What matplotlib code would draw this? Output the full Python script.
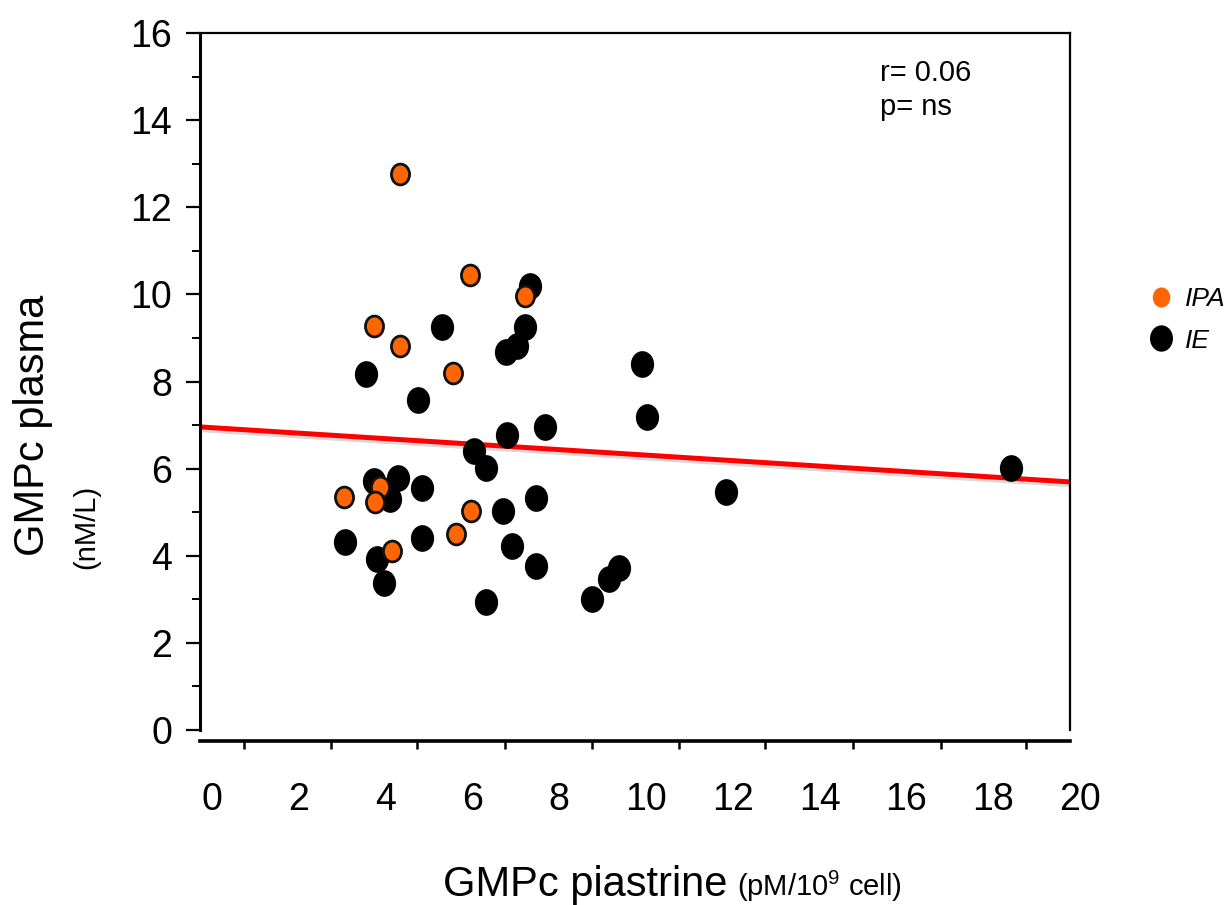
import numpy as np
import matplotlib.pyplot as plt
from matplotlib.path import Path
from matplotlib.lines import Line2D
import matplotlib.transforms as mtransforms
import matplotlib.patheffects as pe

plt.rcParams['font.family'] = ['Liberation Sans', 'DejaVu Sans']
plt.rcParams['mathtext.fontset'] = 'custom'
plt.rcParams['mathtext.rm'] = 'Liberation Sans'
plt.rcParams['mathtext.default'] = 'regular'

# IPA group (orange)
ipa_x = [4.33, 5.94, 7.22, 3.73, 4.33, 5.55, 3.04, 3.87, 3.76, 5.96, 5.62, 4.14]
ipa_y = [12.76, 10.45, 9.96, 9.28, 8.82, 8.20, 5.34, 5.57, 5.23, 5.03, 4.50, 4.11]

# IE group (black)
ie_x = [3.54, 5.30, 4.75, 7.33, 7.20, 7.03, 6.77, 9.90, 10.03, 7.67, 6.79, 6.04,
        6.31, 3.73, 4.29, 4.83, 4.10, 7.47, 6.70, 3.06, 4.83, 3.81, 6.92, 7.47,
        3.95, 6.31, 9.38, 9.15, 8.75, 11.84, 18.41]
ie_y = [8.17, 9.26, 7.58, 10.20, 9.26, 8.82, 8.67, 8.40, 7.18, 6.95, 6.78, 6.40,
        6.01, 5.72, 5.78, 5.55, 5.30, 5.32, 5.03, 4.31, 4.40, 3.93, 4.23, 3.77,
        3.38, 2.93, 3.71, 3.46, 3.00, 5.46, 6.01]

# regression line
fit_intercept = 6.94
fit_slope = -0.063

yticks = [0, 2, 4, 6, 8, 10, 12, 14, 16]
xtick_labels = [0, 2, 4, 6, 8, 10, 12, 14, 16, 18, 20]
xtick_marks = [0.73, 2.74, 4.72, 6.74, 8.76, 10.76, 12.75, 14.77, 16.79, 18.76]

# slightly tall ellipse marker
ell = Path.unit_circle().transformed(mtransforms.Affine2D().scale(1.0, 1.15))

fig = plt.figure(figsize=(12.32, 9.05), dpi=100)
ax = fig.add_axes([200/1232, 1 - 730/905, 870/1232, 697/905])
ax.set_xlim(-0.28, 19.77)
ax.set_ylim(0, 16)

xs = np.array(ax.get_xlim())
ax.plot(xs, fit_intercept + fit_slope * xs, color='#ff0000', lw=3.6,
        solid_capstyle='butt', zorder=2,
        path_effects=[pe.SimpleLineShadow(offset=(0, -2), shadow_color='k', alpha=0.15),
                      pe.Normal()])

ax.scatter(ie_x, ie_y, s=370, marker=ell, c='black', linewidths=0, zorder=3)
ax.scatter(ipa_x, ipa_y, s=225, marker=ell, c='#ff6600', edgecolors='#111111',
           linewidths=2.0, zorder=4)

# axes frame
ax.spines['left'].set_linewidth(2.2)
ax.spines['top'].set_linewidth(1.6)
ax.spines['right'].set_linewidth(1.6)
ax.spines['bottom'].set_linewidth(2.6)
ax.spines['bottom'].set_position(('outward', 8))

ax.set_yticks(yticks)
ax.set_yticks(np.arange(1, 16, 2), minor=True)
ax.tick_params(axis='y', which='major', direction='out', length=10, width=1.6,
               labelsize=27, pad=10)
ax.tick_params(axis='y', which='minor', direction='out', length=6, width=1.4)

ax.set_xticks(xtick_marks)
ax.set_xticklabels([])
ax.tick_params(axis='x', direction='out', length=6, width=1.8)
for v in xtick_labels:
    ax.text(v, -0.1004, str(v), transform=ax.get_xaxis_transform(),
            ha='center', va='center', fontsize=27)

fig.text(880/1232, 1 - 73/905, 'r= 0.06', fontsize=21, va='center')
fig.text(880/1232, 1 - 107/905, 'p= ns', fontsize=21, va='center')

fig.text(727/1232, 1 - 896/905, 'GMPc piastrine', fontsize=30, ha='right', va='baseline')
fig.text(737/1232, 1 - 896/905, r'(pM/10$^{9}$ cell)', fontsize=21, ha='left', va='baseline')

fig.text(33/1232, 1 - 425/905, 'GMPc plasma', rotation=90, fontsize=30,
         ha='center', va='center')
fig.text(86/1232, 1 - 527/905, '(nM/L)', rotation=90, fontsize=21,
         ha='center', va='center')

handles = [Line2D([], [], ls='', marker=ell, markersize=14.5, mfc='#ff6600', mec='none'),
           Line2D([], [], ls='', marker=ell, markersize=19, mfc='black', mec='none')]
ax.legend(handles, ['IPA', 'IE'], loc='center left',
          bbox_to_anchor=(1135/1232, 1 - 320/905), bbox_transform=fig.transFigure,
          frameon=False, prop={'style': 'italic', 'size': 19},
          handletextpad=0.4, labelspacing=0.65, borderpad=0, handlelength=1)

fig.savefig('out.png', dpi=100)
